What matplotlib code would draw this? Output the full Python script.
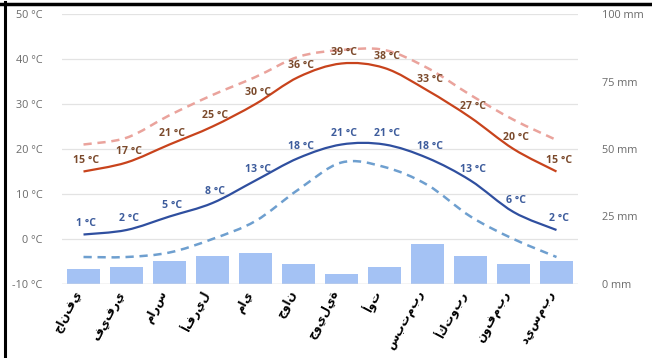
import numpy as np
import matplotlib
matplotlib.use("Agg")
import matplotlib.pyplot as plt
from matplotlib.path import Path
from matplotlib.patches import PathPatch
from matplotlib.lines import Line2D

months = ["جانفي", "فيفري", "مارس", "أفريل", "ماي", "جوان",
          "جويلية", "أوت", "سبتمبر", "أكتوبر", "نوفمبر", "ديسمبر"]
t_max = [15, 17, 21, 25, 30, 36, 39, 38, 33, 27, 20, 15]
t_min = [1, 2, 5, 8, 13, 18, 21, 21, 18, 13, 6, 2]
rec_max = [21, 22.5, 27.5, 32, 36, 40.5, 42, 42, 38, 32, 26.5, 22]
rec_min = [-4, -4, -3, 0, 4, 11, 17, 16, 12, 5, 0, -4]
precip = [5.6, 6.3, 8.6, 10.5, 11.6, 7.4, 3.7, 6.3, 14.7, 10.5, 7.4, 8.6]
temp_ticks = [-10, 0, 10, 20, 30, 40, 50]
mm_ticks = [0, 25, 50, 75, 100]

plt.rcParams['font.family'] = ['Open Sans', 'DejaVu Sans']

fig = plt.figure(figsize=(6.52, 3.58), dpi=100)
ax = fig.add_axes([62/652, 1-284/358, (578-62)/652, (284-14)/358])
ax2 = ax.twinx()
ax.set_zorder(ax2.get_zorder() + 1)
ax.patch.set_visible(False)

x = np.arange(len(months))

# bars (precipitation) on right axis
ax2.bar(x, precip, width=0.79, color="#a4c2f4", zorder=2)
ax2.set_ylim(0, 100)
ax2.set_yticks(mm_ticks)
ax2.set_yticklabels([f"{v} mm" for v in mm_ticks])


def smooth_path(xs, ys):
    pts = np.column_stack([xs, ys]).astype(float)
    n = len(pts)
    verts = [pts[0]]
    codes = [Path.MOVETO]
    for i in range(n - 1):
        p0 = pts[i - 1] if i > 0 else pts[i]
        p1 = pts[i]
        p2 = pts[i + 1]
        p3 = pts[i + 2] if i + 2 < n else pts[i + 1]
        c1 = p1 + (p2 - p0) / 6.0
        c2 = p2 - (p3 - p1) / 6.0
        verts += [c1, c2, p2]
        codes += [Path.CURVE4] * 3
    return Path(verts, codes)


def draw(ys, color, lw, ls="-", z=3):
    p = PathPatch(smooth_path(x, ys), facecolor="none", edgecolor=color,
                  lw=lw, linestyle=ls, zorder=z, capstyle="butt")
    ax.add_patch(p)


draw(rec_max, "#eaa39c", 1.8, (0, (3.3, 2.3)))
draw(rec_min, "#6e9fcf", 1.8, (0, (3.3, 2.3)))
draw(t_max, "#c8431c", 1.6)
draw(t_min, "#2f4f9f", 1.6)

for xi, v in zip(x, t_max):
    ax.annotate(f"{v} °C", (xi, v), xytext=(1.5, 8), textcoords="offset points",
                ha="center", va="center", fontsize=7.6, fontweight="bold",
                color="#7b4a2c", zorder=5)
for xi, v in zip(x, t_min):
    ax.annotate(f"{v} °C", (xi, v), xytext=(1.5, 8), textcoords="offset points",
                ha="center", va="center", fontsize=7.6, fontweight="bold",
                color="#3d5c9c", zorder=5)

ax.set_xlim(-0.5, len(months) - 0.5)
ax.set_ylim(-10, 50)
ax.set_yticks(temp_ticks)
ax.set_yticklabels([f"{v} °C" for v in temp_ticks])
ax.grid(axis="y", color="#e3e3e3", lw=0.9)
ax.set_axisbelow(True)
ax.set_xticks(x)
ax.set_xticklabels(months, rotation=62, ha="right", va="top",
                   fontsize=8.3, fontweight="bold", color="black",
                   family=["DejaVu Sans"])
ax.tick_params(axis="x", length=0, pad=3)
ax.tick_params(axis="y", length=0, pad=14, labelsize=7.8, labelcolor="#6a6a6a")
ax2.tick_params(axis="y", length=0, pad=17, labelsize=7.8, labelcolor="#6a6a6a")

for a in (ax, ax2):
    for s in a.spines.values():
        s.set_visible(False)
ax.axhline(-10, color="#d9d9d9", lw=1.0, zorder=1)

# black frame lines (top and left)
fig.add_artist(Line2D([0, 1], [1 - 3.5/358, 1 - 3.5/358], color="black", lw=2.5,
                      transform=fig.transFigure))
fig.add_artist(Line2D([5/652, 5/652], [0, 1 - 2/358], color="black", lw=2.2,
                      transform=fig.transFigure))

fig.savefig("out.png", dpi=100)
